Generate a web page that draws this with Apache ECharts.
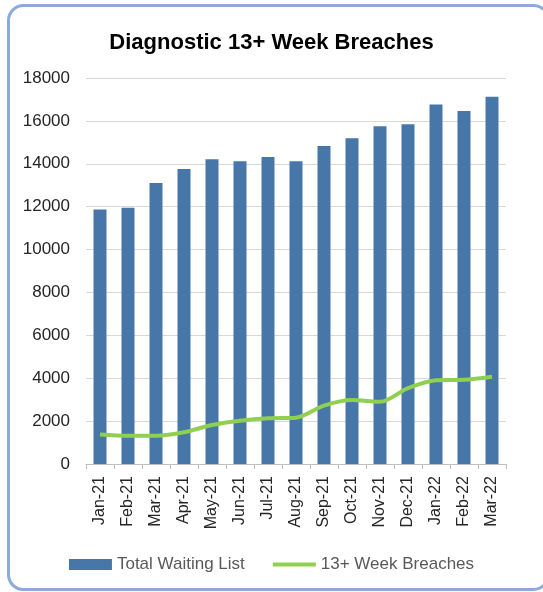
<!DOCTYPE html>
<html>
<head>
<meta charset="utf-8">
<script src="https://cdn.jsdelivr.net/npm/echarts@6/dist/echarts.min.js"></script>
<style>
  html, body { margin: 0; padding: 0; background: #ffffff; }
  #chart { width: 543px; height: 592px; }
</style>
</head>
<body>
<div id="chart"></div>
<script>
const months = ['Jan-21', 'Feb-21', 'Mar-21', 'Apr-21', 'May-21', 'Jun-21', 'Jul-21', 'Aug-21',
                'Sep-21', 'Oct-21', 'Nov-21', 'Dec-21', 'Jan-22', 'Feb-22', 'Mar-22'];
const totalWaitingList = [11870, 11950, 13100, 13760, 14210, 14120, 14320, 14120,
                          14830, 15190, 15750, 15840, 16760, 16460, 17120];
const weekBreaches13 = [1380, 1320, 1320, 1480, 1820, 2020, 2130, 2160,
                        2720, 2980, 2900, 3540, 3910, 3930, 4070];
const yTicks = { min: 0, max: 18000, step: 2000 };

const font = "'Liberation Sans', Arial, sans-serif";
// thin bar inside an 11px-tall box, so the line key stays 4px thick
const lineKeyIcon = 'path://M0,0L0,0M0,11L0,11M0,3.5L43,3.5L43,7.5L0,7.5Z';

const chart = echarts.init(document.getElementById('chart'), null, { renderer: 'canvas' });

chart.setOption({
  backgroundColor: '#ffffff',
  animation: false,
  title: {
    text: 'Diagnostic 13+ Week Breaches',
    left: 'center',
    top: 27,
    textStyle: { fontFamily: font, fontSize: 22, fontWeight: 'bold', color: '#000000' }
  },
  graphic: [{
    type: 'rect',
    shape: { x: 8.5, y: 5.5, width: 540, height: 584, r: 15 },
    style: { fill: 'none', stroke: '#8eaadc', lineWidth: 3 },
    z: 100
  }],
  grid: { left: 86, right: 37, top: 78, bottom: 128 },
  legend: {
    bottom: 14,
    left: 'center',
    itemWidth: 43,
    itemHeight: 11,
    itemGap: 28,
    textStyle: { fontFamily: font, fontSize: 17, color: '#595959' },
    data: [
      { name: 'Total Waiting List', icon: 'rect' },
      { name: '13+ Week Breaches', icon: lineKeyIcon }
    ]
  },
  xAxis: {
    type: 'category',
    data: months,
    boundaryGap: true,
    axisLine: { lineStyle: { color: '#bfbfbf', width: 1 } },
    axisTick: { show: true, length: 5, lineStyle: { color: '#bfbfbf' } },
    axisLabel: { rotate: 90, margin: 12, fontFamily: font, fontSize: 16, color: '#262626' }
  },
  yAxis: {
    type: 'value',
    min: yTicks.min,
    max: yTicks.max,
    interval: yTicks.step,
    axisLine: { show: false },
    axisTick: { show: false },
    axisLabel: {
      margin: 16, fontFamily: font, fontSize: 17, color: '#262626',
      formatter: v => String(v)
    },
    splitLine: { lineStyle: { color: '#d9d9d9', width: 1 } }
  },
  series: [
    {
      name: 'Total Waiting List',
      type: 'bar',
      data: totalWaitingList,
      barWidth: 13,
      itemStyle: { color: '#4677a8' }
    },
    {
      name: '13+ Week Breaches',
      type: 'line',
      data: weekBreaches13,
      smooth: 0.3,
      symbol: 'none',
      lineStyle: { color: '#8fd14f', width: 4 },
      itemStyle: { color: '#8fd14f' }
    }
  ]
});
</script>
</body>
</html>
